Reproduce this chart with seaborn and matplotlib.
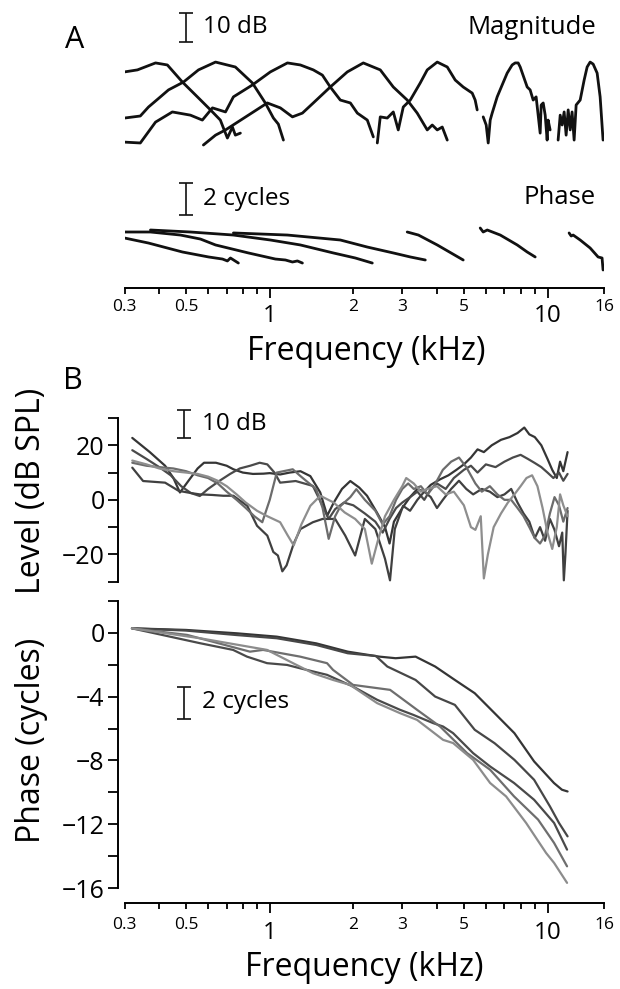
import matplotlib
matplotlib.use("Agg")
import matplotlib.pyplot as plt
from matplotlib.ticker import FixedLocator, NullFormatter, FixedFormatter
from matplotlib.transforms import blended_transform_factory
import seaborn as sns

sns.set_style("white")
plt.rcParams['font.family'] = ['Open Sans', 'DejaVu Sans']
plt.rcParams['axes.unicode_minus'] = True
plt.rcParams['text.color'] = 'black'
plt.rcParams['xtick.color'] = 'black'
plt.rcParams['ytick.color'] = 'black'
plt.rcParams['axes.edgecolor'] = 'black'
plt.rcParams['axes.labelcolor'] = 'black'

# ---------------- Panel A: magnitude (kHz, relative dB) ----------------
mag1_f = [0.30, 0.334, 0.388, 0.428, 0.485, 0.549, 0.612, 0.664, 0.681, 0.704, 0.734, 0.752, 0.784]
mag1_db = [25.2, 25.9, 28.3, 27.6, 21.7, 16.6, 12.1, 8.6, 5.9, 2.4, 6.2, 3.4, 4.1]
mag2_f = [0.30, 0.342, 0.366, 0.404, 0.432, 0.489, 0.554, 0.638, 0.752, 0.866, 0.964, 1.031, 1.074, 1.12]
mag2_db = [9.3, 10.0, 13.1, 16.6, 19.0, 21.7, 25.9, 28.6, 26.9, 21.4, 14.5, 9.3, 7.2, 1.7]
mag3_f = [0.30, 0.342, 0.388, 0.446, 0.518, 0.572, 0.622, 0.693, 0.740, 0.866, 1.005, 1.158, 1.289,
          1.435, 1.547, 1.652, 1.795, 1.951, 2.067, 2.245, 2.36]
mag3_db = [1.0, 0.7, 7.9, 11.4, 10.3, 8.6, 12.8, 11.4, 16.6, 20.7, 25.2, 28.3, 27.6, 25.9, 24.1,
           20.0, 15.5, 14.5, 11.0, 8.6, 2.8]
mag4_f = [0.577, 0.638, 0.693, 0.838, 0.98, 1.092, 1.207, 1.311, 1.435, 1.652, 1.902, 2.172, 2.50,
          2.785, 3.126, 3.396, 3.69, 3.846, 4.009, 4.179, 4.356]
mag4_db = [0.0, 3.4, 5.2, 10.3, 14.5, 12.8, 9.7, 11.0, 14.5, 20.0, 25.2, 28.3, 25.9, 20.0, 15.5,
           11.0, 5.2, 6.9, 5.2, 6.2, 1.7]
mag5_f = [2.439, 2.50, 2.649, 2.785, 2.902, 3.025, 3.206, 3.482, 3.69, 4.009, 4.356, 4.653, 4.972,
          5.357, 5.49, 5.583]
mag5_db = [0.7, 9.7, 9.3, 11.4, 5.2, 13.1, 15.5, 21.4, 25.9, 28.6, 26.9, 22.4, 20.0, 17.9, 15.5, 12.1]
mag6_f = [5.868, 6.016, 6.117, 6.219, 6.321, 6.589, 6.867, 7.159, 7.46, 7.649, 7.84, 7.974, 8.45,
          8.66, 8.88, 9.10, 9.41, 9.49, 9.65, 9.81, 9.97, 10.05, 10.22]
mag6_db = [9.7, 6.9, 0.7, 8.6, 11.0, 16.6, 20.7, 24.8, 27.6, 28.3, 28.3, 26.9, 20.0, 19.0, 15.5,
           16.6, 4.1, 13.8, 14.5, 10.3, 1.7, 8.6, 5.2]
mag7_f = [10.92, 11.11, 11.29, 11.48, 11.67, 11.87, 12.07, 12.26, 12.47, 12.68, 13.11, 13.55, 13.89,
          14.24, 14.60, 15.09, 15.47, 15.85]
mag7_db = [1.7, 10.3, 6.9, 11.4, 3.4, 12.1, 5.2, 11.4, 1.7, 13.8, 15.5, 22.4, 26.9, 28.6, 27.9,
           24.8, 16.6, 1.7]

# ---------------- Panel A: phase (kHz, cycles) ----------------
ph1_f = [0.30, 0.366, 0.485, 0.602, 0.676, 0.704, 0.722, 0.771]
ph1_c = [-0.375, -0.69, -1.25, -1.56, -1.69, -1.81, -1.625, -1.94]
ph2_f = [0.30, 0.372, 0.477, 0.563, 0.638, 0.838, 1.048, 1.139, 1.207, 1.258, 1.311]
ph2_c = [0.0, 0.0, -0.19, -0.44, -0.81, -1.31, -1.69, -1.75, -1.875, -1.81, -1.94]
ph3_f = [0.372, 0.518, 0.740, 1.005, 1.289, 1.694, 2.033, 2.34]
ph3_c = [0.125, 0.0, -0.19, -0.5, -0.81, -1.31, -1.625, -1.94]
ph4_f = [0.740, 1.158, 1.795, 2.245, 2.785, 3.206, 3.631]
ph4_c = [-0.06, -0.19, -0.5, -0.94, -1.31, -1.56, -1.75]
ph5_f = [3.126, 3.43, 4.009, 4.972]
ph5_c = [0.0, -0.19, -0.81, -1.75]
ph6_f = [5.724, 5.868, 6.07, 6.76, 7.78, 8.45, 9.03]
ph6_c = [0.25, 0.0, 0.125, -0.19, -0.81, -1.25, -1.56]
ph7_f = [11.96, 12.17, 12.37, 13.11, 14.24, 15.21, 15.72, 15.85]
ph7_c = [-0.06, -0.25, -0.19, -0.5, -1.0, -1.56, -1.625, -2.375]

# ---------------- Panel B: level (kHz, dB SPL) ----------------
lv1_f = [0.32, 0.37, 0.42, 0.45, 0.475, 0.51, 0.55, 0.58, 0.64, 0.70, 0.74, 0.80, 0.87, 0.95, 1.0,
         1.09, 1.18, 1.29, 1.40, 1.52, 1.61, 1.70, 1.82, 1.95, 2.1, 2.24, 2.43, 2.6, 2.7, 2.8, 3.0,
         3.2, 3.4, 3.6, 3.8, 4.1, 4.4, 4.7, 5.0, 5.3, 5.6, 5.9, 6.3, 6.8, 7.3, 7.8, 8.25, 8.6, 9.0,
         9.5, 10.0, 10.4, 10.8, 11.1, 11.4, 11.81]
lv1_db = [22.7, 17.5, 12.5, 8, 2.7, 7, 11.5, 13.6, 13.6, 12.5, 11.2, 10, 9.5, 9.6, 9.8, 9.3, 10,
          10.5, 8.7, 2.7, -5.8, -1, 4, 6.9, 4.5, 1.5, -4.6, -10, -16, -8, -3, 1, 4, 3, 5.5, 7.5, 9,
          11, 13, 15.5, 18.5, 17.5, 20, 22, 23, 24.5, 26.5, 24, 23, 20, 15, 11, 8, 14, 10.5, 17.5]
lv2_f = [0.32, 0.36, 0.40, 0.44, 0.48, 0.52, 0.56, 0.60, 0.66, 0.72, 0.78, 0.85, 0.92, 0.98, 1.04,
         1.09, 1.24, 1.43, 1.55, 1.63, 1.72, 1.85, 2.0, 2.2, 2.4, 2.55, 2.7, 2.85, 3.0, 3.2, 3.4,
         3.6, 3.8, 4.0, 4.3, 4.6, 5.0, 5.3, 5.6, 6.0, 6.5, 7.0, 7.5, 8.0, 8.5, 9.0, 9.5, 10.0,
         10.5, 11.0, 11.4, 11.81]
lv2_db = [18.2, 15, 12, 9, 5, 2.5, 1.4, 4, 7, 9.5, 11.5, 12.5, 13.6, 13, 10, 6.3, 6.9, 5.1, -2.2,
          -7, -3.4, -1, -2, -5, -8, -12, -7, -3, -1, 1, 3, 0, 4, 6, 4, 8, 11, 12.5, 10, 13, 12, 14,
          15.5, 16.5, 15, 13.5, 12, 10, 8, 10, 7, 9.5]
lv3_f = [0.32, 0.35, 0.42, 0.47, 0.52, 0.56, 0.62, 0.68, 0.74, 0.83, 0.90, 0.98, 1.03, 1.07, 1.11,
         1.15, 1.22, 1.29, 1.43, 1.55, 1.72, 1.87, 2.03, 2.2, 2.4, 2.6, 2.71, 2.82, 3.02, 3.2, 3.4,
         3.6, 3.8, 4.0, 4.2, 4.5, 4.8, 5.1, 5.4, 5.8, 6.2, 6.6, 7.0, 7.4, 7.8, 8.2, 8.6, 9.0, 9.4,
         9.8, 10.2, 10.6, 11.0, 11.3, 11.45, 11.6, 11.81]
lv3_db = [11.8, 6.9, 6.3, 3.3, 2.5, 2, 1.8, 1.5, 1.5, -2.2, -9.5, -13.1, -19.1, -20.4, -26.2, -24,
          -16, -10.7, -8.2, -7, -7, -13.1, -20.4, -7, -10.7, -21.6, -29.5, -10.7, -2.2, -4, 0, 3,
          1, -3, 0, 4, 7, 4, 2, 4, 3, 1, 2, 4, -1, -5, -8, -14, -10, -15, -7, -11, -17, -12, -29.5,
          -20, -4]
lv4_f = [0.32, 0.36, 0.40, 0.45, 0.50, 0.55, 0.60, 0.65, 0.70, 0.76, 0.82, 0.88, 0.94, 1.0, 1.06,
         1.21, 1.29, 1.47, 1.55, 1.63, 1.72, 1.8, 1.95, 2.05, 2.2, 2.4, 2.55, 2.7, 2.85, 3.0, 3.15,
         3.3, 3.5, 3.7, 3.9, 4.2, 4.5, 4.8, 5.1, 5.5, 5.8, 6.2, 6.6, 7.0, 7.4, 7.8, 8.2, 8.6, 9.0,
         9.4, 9.8, 10.2, 10.6, 11.0, 11.4, 11.81]
lv4_db = [13.6, 12.5, 12, 11.5, 10.5, 9, 8, 6, 3, 0, -3, -6, -8.2, 0, 10, 11.2, 8.7, 3.9, -3,
          -14.3, -6, -2.2, 1, 3.9, 0, -4, -9, -6, 0, 4, 6, 4, 5, 2, 5, 11, 14, 15.5, 12, 6, 3, 5,
          2, 0, 0, -3, -6, -10, -14, -16, -13, -5, 1, -2, -8, -3]
lv5_f = [0.32, 0.36, 0.40, 0.45, 0.50, 0.55, 0.60, 0.65, 0.70, 0.76, 0.82, 0.90, 0.98, 1.09, 1.16,
         1.22, 1.30, 1.40, 1.52, 1.70, 1.86, 2.03, 2.2, 2.33, 2.45, 2.6, 2.8, 3.0, 3.1, 3.3, 3.5,
         3.7, 4.0, 4.3, 4.6, 5.0, 5.3, 5.5, 5.75, 5.9, 6.1, 6.4, 6.8, 7.2, 7.6, 8.0, 8.4, 8.8,
         9.2, 9.6, 10.0, 10.4, 10.8, 11.1, 11.4, 11.81]
lv5_db = [14.4, 13, 11.5, 10.5, 10, 9.5, 8.5, 7, 5, 2, -1, -4, -6, -8.2, -13, -16.7, -9, -2.2, 1.5,
          -1, -4.6, -7, -10.7, -23.4, -15, -6, 0, 5, 8, 6, 3, 4, 5, 2, 3, -2, -10, -11, -6, -28.8,
          -20, -10, -5, -1, 2, 5, 8, 9, 5, -3, -12, -18, -10, 2, -2, -6]

# ---------------- Panel B: phase (kHz, cycles) ----------------
pa_f = [0.32, 0.50, 0.76, 1.06, 1.47, 1.91, 2.48, 2.84, 3.35, 3.94, 4.64, 5.47, 6.45, 7.60, 8.95,
        10.55, 11.27, 11.81]
pa_c = [0.27, 0.17, -0.04, -0.25, -0.67, -1.19, -1.5, -1.6, -1.5, -2.12, -2.96, -3.79, -5.04,
        -6.29, -8.06, -9.41, -9.83, -9.94]
pb_f = [0.32, 0.50, 0.76, 1.06, 1.47, 1.91, 2.41, 2.65, 3.35, 3.94, 4.64, 5.47, 6.45, 7.60, 8.95,
        10.2, 11.0, 11.81]
pb_c = [0.27, 0.13, -0.15, -0.35, -0.77, -1.29, -1.46, -2.12, -2.96, -4.0, -4.52, -6.08, -6.92,
        -7.96, -9.21, -10.87, -11.91, -12.75]
pc_f = [0.319, 0.561, 0.738, 0.828, 0.978, 1.154, 1.286, 1.608, 1.995, 2.435, 2.946, 3.282, 3.873,
        4.209, 4.572, 5.397, 6.215, 7.580, 8.950, 10.56, 11.76]
pc_c = [0.27, -0.66, -1.08, -1.5, -1.91, -2.02, -2.23, -2.64, -3.375, -4.2, -4.83, -5.14, -5.66,
        -5.875, -6.29, -7.54, -8.375, -9.41, -10.46, -11.91, -13.58]
pd_f = [0.319, 0.504, 0.849, 0.946, 1.286, 1.608, 1.690, 1.995, 2.712, 3.392, 4.104, 5.135, 6.215,
        7.580, 9.249, 10.56, 11.76]
pd_c = [0.27, -0.14, -1.19, -1.08, -1.5, -1.91, -2.33, -3.27, -3.58, -4.83, -5.875, -7.54, -8.58,
        -10.25, -11.7, -13.16, -14.625]
pe_f = [0.319, 0.561, 0.978, 1.213, 1.432, 1.690, 1.946, 2.435, 2.946, 3.392, 4.209, 4.572, 5.397,
        6.215, 7.095, 8.376, 9.885, 10.56, 11.76]
pe_c = [0.27, -0.35, -1.08, -1.91, -2.54, -2.96, -3.27, -4.41, -5.04, -5.46, -6.71, -6.91, -7.96,
        -9.41, -10.25, -11.91, -13.79, -14.41, -15.66]

tick_major = [1, 10]
tick_minor = [0.3, 0.4, 0.5, 0.6, 0.7, 0.8, 0.9, 2, 3, 4, 5, 6, 7, 8, 9, 16]
tick_label_vals = [0.3, 0.5, 1, 2, 3, 5, 10, 16]
tick_label_txt = ['0.3', '0.5', '1', '2', '3', '5', '10', '16']

level_colors = ['#353535', '#4a4a4a', '#404040', '#6c6c6c', '#8e8e8e']
phase_colors = ['#353535', '#474747', '#4a4a4a', '#6e6e6e', '#8c8c8c']

# ---------------- figure ----------------
W, H = 620, 989
fig = plt.figure(figsize=(6.2, 9.89), dpi=100)
X0, X1 = 124.5, 604.2


def px_axes(x0, y0, x1, y1):
    return fig.add_axes([x0 / W, 1 - y1 / H, (x1 - x0) / W, (y1 - y0) / H])


def ftext(x, y, s, **kw):
    fig.text(x / W, 1 - y / H, s, color='black', **kw)


def strip(ax):
    for s in ax.spines.values():
        s.set_visible(False)
    ax.set_xticks([])
    ax.set_yticks([])
    ax.set_xlabel('')
    ax.set_ylabel('')
    ax.patch.set_alpha(0)


def line(ax, f, v, color, lw):
    sns.lineplot(x=f, y=v, ax=ax, color=color, linewidth=lw, estimator=None, sort=False,
                 solid_joinstyle='round', solid_capstyle='round')


def freq_axis(ax, y_small, y_big, outward):
    ax.spines['bottom'].set_visible(True)
    ax.spines['bottom'].set_linewidth(1.4)
    ax.spines['bottom'].set_color('black')
    ax.spines['bottom'].set_position(('outward', outward))
    ax.xaxis.set_major_locator(FixedLocator(tick_major))
    ax.xaxis.set_minor_locator(FixedLocator(tick_minor))
    ax.xaxis.set_major_formatter(NullFormatter())
    ax.xaxis.set_minor_formatter(NullFormatter())
    ax.tick_params(axis='x', which='major', direction='out', length=7, width=1.3, bottom=True,
                   color='black')
    ax.tick_params(axis='x', which='minor', direction='out', length=4, width=1.3, bottom=True,
                   color='black')
    tr = blended_transform_factory(ax.transData, fig.transFigure)
    for v, t in zip(tick_label_vals, tick_label_txt):
        big = t in ('1', '10')
        ax.text(v, 1 - (y_big if big else y_small) / H, t, transform=tr, ha='center',
                va='center', fontsize=17.5 if big else 12.5, color='black')


def yaxis_style(ax):
    ax.spines['left'].set_visible(True)
    ax.spines['left'].set_linewidth(1.4)
    ax.spines['left'].set_color('black')
    ax.spines['left'].set_position(('outward', 4.8))
    ax.tick_params(axis='y', which='both', direction='out', length=7, width=1.3, left=True,
                   labelsize=18, pad=2.5, color='black', labelcolor='black')


def scalebar(ax, x, lo, hi):
    ax.errorbar([x], [(lo + hi) / 2], yerr=[(hi - lo) / 2], fmt='none', ecolor='#111111',
                elinewidth=1.2, capsize=5, capthick=1.2, clip_on=False)


# ---- A magnitude
axAm = px_axes(X0, 10, X1, 150)
axAm.set_xscale('log')
for f, v in [(mag1_f, mag1_db), (mag2_f, mag2_db), (mag3_f, mag3_db), (mag4_f, mag4_db),
             (mag5_f, mag5_db), (mag6_f, mag6_db), (mag7_f, mag7_db)]:
    line(axAm, f, v, '#111111', 2.0)
scalebar(axAm, 0.50, 35.5, 45.5)
strip(axAm)
axAm.set_xlim(0.3, 16)
axAm.set_ylim(-1.72, 46.55)

# ---- A phase
axAp = px_axes(X0, 175, X1, 288)
axAp.set_xscale('log')
for f, v in [(ph1_f, ph1_c), (ph2_f, ph2_c), (ph3_f, ph3_c), (ph4_f, ph4_c),
             (ph5_f, ph5_c), (ph6_f, ph6_c), (ph7_f, ph7_c)]:
    line(axAp, f, v, '#111111', 2.0)
scalebar(axAp, 0.50, 1.06, 3.06)
strip(axAp)
axAp.set_xlim(0.3, 16)
axAp.set_ylim(-3.5, 3.5625)
freq_axis(axAp, 307, 316, 0)

# ---- B level
axBl = px_axes(X0, 418, X1, 581.7)
axBl.set_xscale('log')
for (f, v), c in zip([(lv1_f, lv1_db), (lv2_f, lv2_db), (lv3_f, lv3_db), (lv4_f, lv4_db),
                      (lv5_f, lv5_db)], level_colors):
    line(axBl, f, v, c, 1.6)
scalebar(axBl, 0.49, 22.8, 32.8)
strip(axBl)
axBl.set_xlim(0.3, 16)
axBl.set_ylim(-30, 30)
axBl.yaxis.set_major_locator(FixedLocator([-20, 0, 20]))
axBl.yaxis.set_major_formatter(FixedFormatter(['\u221220', '0', '20']))
axBl.yaxis.set_minor_locator(FixedLocator([-30, -10, 10, 30]))
yaxis_style(axBl)

# ---- B phase
axBp = px_axes(X0, 600.7, X1, 888.3)
axBp.set_xscale('log')
for (f, v), c in zip([(pa_f, pa_c), (pb_f, pb_c), (pc_f, pc_c), (pd_f, pd_c), (pe_f, pe_c)],
                     phase_colors):
    line(axBp, f, v, c, 1.6)
scalebar(axBp, 0.49, -5.4, -3.4)
strip(axBp)
axBp.set_xlim(0.3, 16)
axBp.set_ylim(-16, 2)
axBp.yaxis.set_major_locator(FixedLocator([-16, -12, -8, -4, 0]))
axBp.yaxis.set_major_formatter(FixedFormatter(['\u221216', '\u221212', '\u22128', '\u22124', '0']))
axBp.yaxis.set_minor_locator(FixedLocator([-14, -10, -6, -2, 2]))
yaxis_style(axBp)
freq_axis(axBp, 925, 933, 10.8)

# ---- texts
ftext(75, 40, 'A', fontsize=22, ha='center', va='center')
ftext(73, 381, 'B', fontsize=22, ha='center', va='center')
ftext(203, 27, '10 dB', fontsize=17.5, ha='left', va='center')
ftext(596, 27, 'Magnitude', fontsize=18.5, ha='right', va='center')
ftext(203, 199, '2 cycles', fontsize=17.5, ha='left', va='center')
ftext(596, 198, 'Phase', fontsize=18.5, ha='right', va='center')
ftext(366, 352, 'Frequency (kHz)', fontsize=23, ha='center', va='center')
ftext(202, 424, '10 dB', fontsize=17.5, ha='left', va='center')
ftext(202, 702, '2 cycles', fontsize=17.5, ha='left', va='center')
ftext(32, 491, 'Level (dB SPL)', fontsize=23, ha='center', va='center', rotation=90)
ftext(32, 740, 'Phase (cycles)', fontsize=23, ha='center', va='center', rotation=90)
ftext(364, 968, 'Frequency (kHz)', fontsize=23, ha='center', va='center')

fig.savefig('out.png', dpi=100)
